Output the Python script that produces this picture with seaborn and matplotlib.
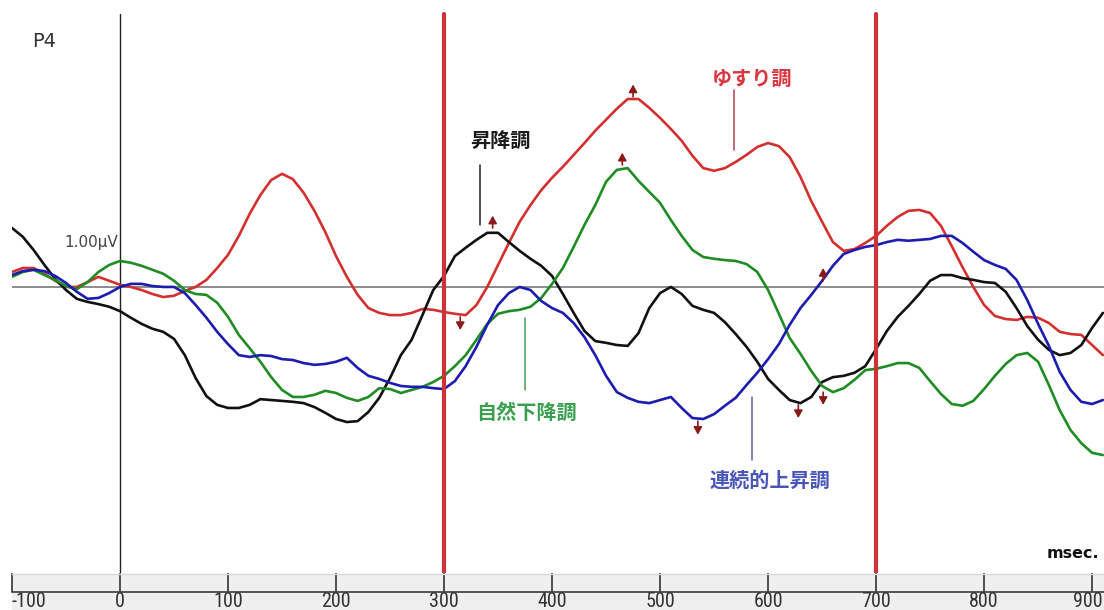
import matplotlib
matplotlib.use("Agg")
import matplotlib.pyplot as plt
from matplotlib import font_manager
import pandas as pd
import seaborn as sns

# Grand-average ERP at electrode P4, four intonation conditions (µV, 10 ms steps)
times = list(range(-100, 911, 10))

yusuri = [  # ゆすり調
    0.34, 0.43, 0.43, 0.30, 0.14, 0.00, 0.00, 0.11, 0.23, 0.14,
    0.05, 0.00, -0.07, -0.16, -0.23, -0.20, -0.09, 0.00, 0.16, 0.43,
    0.73, 1.16, 1.66, 2.09, 2.43, 2.57, 2.45, 2.14, 1.73, 1.25,
    0.70, 0.23, -0.18, -0.48, -0.59, -0.64, -0.64, -0.59, -0.50, -0.52,
    -0.57, -0.61, -0.64, -0.41, 0.00, 0.50, 1.00, 1.48, 1.86, 2.20,
    2.48, 2.73, 3.00, 3.27, 3.55, 3.80, 4.05, 4.27, 4.27, 4.07,
    3.84, 3.59, 3.32, 2.98, 2.70, 2.64, 2.70, 2.84, 3.00, 3.18,
    3.27, 3.20, 2.95, 2.50, 1.95, 1.48, 1.02, 0.82, 0.86, 1.00,
    1.16, 1.39, 1.59, 1.73, 1.75, 1.68, 1.39, 0.93, 0.45, 0.00,
    -0.41, -0.66, -0.73, -0.75, -0.68, -0.70, -0.82, -1.02, -1.07, -1.09,
    -1.32, -1.55,
]

shoukou = [  # 昇降調
    1.34, 1.14, 0.84, 0.50, 0.18, -0.07, -0.27, -0.34, -0.39, -0.45,
    -0.55, -0.70, -0.84, -0.95, -1.02, -1.18, -1.55, -2.07, -2.48, -2.68,
    -2.75, -2.75, -2.68, -2.55, -2.57, -2.59, -2.61, -2.64, -2.73, -2.86,
    -3.00, -3.07, -3.05, -2.84, -2.52, -2.07, -1.55, -1.20, -0.64, -0.07,
    0.25, 0.70, 0.89, 1.07, 1.23, 1.23, 1.02, 0.82, 0.64, 0.48,
    0.25, -0.16, -0.59, -1.00, -1.23, -1.27, -1.32, -1.34, -1.05, -0.48,
    -0.14, 0.00, -0.16, -0.43, -0.52, -0.59, -0.80, -1.07, -1.36, -1.70,
    -2.09, -2.34, -2.57, -2.64, -2.50, -2.16, -2.05, -2.02, -1.95, -1.80,
    -1.41, -1.00, -0.68, -0.43, -0.16, 0.14, 0.27, 0.27, 0.20, 0.16,
    0.11, 0.09, -0.11, -0.48, -0.89, -1.20, -1.43, -1.55, -1.50, -1.32,
    -0.93, -0.59,
]

shizen = [  # 自然下降調
    0.23, 0.34, 0.39, 0.27, 0.16, 0.02, -0.05, 0.11, 0.34, 0.50,
    0.59, 0.55, 0.48, 0.39, 0.30, 0.14, -0.07, -0.16, -0.18, -0.36,
    -0.68, -1.09, -1.39, -1.70, -2.05, -2.34, -2.50, -2.50, -2.45, -2.36,
    -2.41, -2.52, -2.59, -2.50, -2.30, -2.32, -2.41, -2.34, -2.27, -2.16,
    -2.02, -1.80, -1.55, -1.20, -0.84, -0.61, -0.55, -0.52, -0.45, -0.25,
    0.07, 0.43, 0.91, 1.41, 1.86, 2.39, 2.66, 2.70, 2.41, 2.16,
    1.91, 1.52, 1.16, 0.84, 0.68, 0.64, 0.61, 0.59, 0.52, 0.34,
    -0.07, -0.61, -1.16, -1.52, -1.91, -2.25, -2.39, -2.30, -2.11, -1.89,
    -1.86, -1.80, -1.73, -1.73, -1.84, -2.14, -2.43, -2.66, -2.70, -2.59,
    -2.32, -2.02, -1.75, -1.55, -1.50, -1.70, -2.23, -2.80, -3.25, -3.55,
    -3.77, -3.82,
]

renzoku = [  # 連続的上昇調
    0.27, 0.36, 0.39, 0.36, 0.25, 0.09, -0.11, -0.27, -0.25, -0.14,
    0.00, 0.07, 0.07, 0.02, 0.00, 0.00, -0.14, -0.41, -0.70, -1.02,
    -1.30, -1.55, -1.59, -1.55, -1.57, -1.64, -1.66, -1.73, -1.77, -1.75,
    -1.70, -1.61, -1.84, -2.02, -2.09, -2.18, -2.25, -2.27, -2.27, -2.30,
    -2.32, -2.14, -1.80, -1.36, -0.86, -0.41, -0.14, 0.00, -0.07, -0.32,
    -0.48, -0.59, -0.82, -1.14, -1.55, -2.02, -2.39, -2.52, -2.61, -2.64,
    -2.57, -2.50, -2.75, -2.98, -3.00, -2.89, -2.70, -2.52, -2.23, -1.95,
    -1.64, -1.30, -0.86, -0.48, -0.18, 0.14, 0.48, 0.75, 0.84, 0.91,
    0.95, 1.02, 1.07, 1.05, 1.07, 1.09, 1.16, 1.16, 1.00, 0.80,
    0.61, 0.50, 0.41, 0.16, -0.30, -0.84, -1.34, -1.93, -2.34, -2.61,
    -2.66, -2.57,
]

conditions = ["ゆすり調", "昇降調", "自然下降調", "連続的上昇調"]
series = [yusuri, shoukou, shizen, renzoku]
colors = ["#d3302f", "#111111", "#1f8c24", "#1c1cb0"]

# Peak markers: latency (ms), start and tip of each small arrow (µV)
peak_ms = [345, 315, 475, 465, 535, 628, 651, 651]
peak_base = [1.34, -0.68, 4.32, 2.77, -3.05, -2.68, -2.39, 0.14]
peak_tip = [1.62, -0.98, 4.60, 3.05, -3.36, -2.98, -2.68, 0.43]

# Analysis window boundaries (ms)
window = [300, 700]

# Axis ticks
xticks = [-100, 0, 100, 200, 300, 400, 500, 600, 700, 800, 900]
xlim = (-100, 911)
ylim = (-6.5, 6.52)

# Condition labels: text position, leader line x and y-range
label_text = ["昇降調", "ゆすり調", "自然下降調", "連続的上昇調"]
label_xy = [(352, 3.34), (585, 4.75), (376, -2.86), (602, -4.39)]
label_color = ["#1a1a1a", "#d9363e", "#3aa050", "#4a55b8"]
leader_x = [333, 568, 375, 585]
leader_y = [(2.77, 1.41), (4.48, 3.11), (-0.70, -2.34), (-2.50, -3.93)]
leader_color = ["#222222", "#b0404c", "#4a9a5a", "#6060a0"]

sns.set_theme(style="white")
plt.rcParams["font.family"] = ["DejaVu Sans", "Noto Sans CJK JP"]

# narrow face for the time-scale numbers, if one is available
installed = {f.name for f in font_manager.fontManager.ttflist}
narrow = next((n for n in ["Liberation Sans Narrow", "DejaVu Sans Condensed",
                           "Roboto Condensed", "Open Sans Condensed"]
               if n in installed), None)

df = pd.concat(
    [pd.DataFrame({"ms": times, "uV": vals, "cond": name})
     for name, vals in zip(conditions, series)],
    ignore_index=True,
)

W, H = 1104, 610
fig = plt.figure(figsize=(W / 100, H / 100), dpi=100)
fig.patch.set_facecolor("white")

ax = fig.add_axes([12 / W, 37 / H, 1092 / W, 573 / H])
ax.set_xlim(*xlim)
ax.set_ylim(*ylim)
ax.set_facecolor("white")
for s in ax.spines.values():
    s.set_visible(False)
ax.set_xticks([])
ax.set_yticks([])

# baseline and stimulus onset
ax.axhline(0, color="#6e6e6e", lw=1.1, zorder=1)
ax.axvline(0, ymin=0.002, ymax=0.976, color="#222222", lw=1.0, zorder=1)
for w in window:
    ax.axvline(w, ymin=0.002, ymax=0.976, color="#cc3238", lw=3.0, zorder=4)

sns.lineplot(data=df, x="ms", y="uV", hue="cond", hue_order=conditions,
             palette=colors, linewidth=1.9, legend=False, ax=ax, zorder=3)
ax.set_xlabel("")
ax.set_ylabel("")

for xm, yb, yt in zip(peak_ms, peak_base, peak_tip):
    ax.annotate("", xy=(xm, yt), xytext=(xm, yb),
                arrowprops=dict(arrowstyle="-|>,head_length=0.45,head_width=0.25",
                                color="#8b1a1a", lw=1.2, shrinkA=0, shrinkB=0,
                                mutation_scale=10),
                zorder=5)

for txt, (tx, ty), c, lx, (ly0, ly1), lc in zip(label_text, label_xy, label_color,
                                                 leader_x, leader_y, leader_color):
    ax.text(tx, ty, txt, color=c, fontsize=14.5, fontweight="bold",
            family=["Noto Sans CJK JP", "DejaVu Sans"], ha="center", va="center",
            zorder=6)
    ax.plot([lx, lx], [ly0, ly1], color=lc, lw=1.1, zorder=6)

ax.text(-81.5, 5.57, "P4", fontsize=14, color="#333333", ha="left", va="center")
ax.text(-2, 1.0, "1.00µV", fontsize=11, color="#444444", ha="right", va="center")
ax.text(907, -6.05, "msec.", fontsize=11.5, fontweight="bold", color="#111111",
        ha="right", va="center")

# time scale strip
ax2 = fig.add_axes([12 / W, 0, 1092 / W, 36 / H])
ax2.set_xlim(*xlim)
ax2.set_ylim(0, 1)
ax2.set_facecolor("#efefef")
for side in ["left", "right"]:
    ax2.spines[side].set_visible(False)
ax2.spines["top"].set_color("#d8d8d8")
ax2.spines["top"].set_linewidth(1.0)
ax2.spines["bottom"].set_position(("axes", 0.5))
ax2.spines["bottom"].set_color("#3a3a3a")
ax2.spines["bottom"].set_linewidth(1.2)
ax2.set_yticks([])
ax2.set_xticks(xticks)
# the last number sits flush against the right edge, so it is set separately
ax2.set_xticklabels([str(t) for t in xticks[:-1]] + [""])
label_size = 14.5 if narrow else 11
ax2.tick_params(axis="x", direction="in", length=14, width=1.2, colors="#333333",
                pad=0.3, labelsize=label_size, bottom=True)
for lab in ax2.get_xticklabels():
    if narrow:
        lab.set_family(narrow)
    lab.set_verticalalignment("top")
ax2.get_xticklabels()[0].set_horizontalalignment("left")
ax2.text(0.999, 0.49, str(xticks[-1]), transform=ax2.transAxes, ha="right", va="top",
         fontsize=label_size, color="#333333",
         family=narrow if narrow else "DejaVu Sans")

fig.savefig("out.png", dpi=100, facecolor="white")
